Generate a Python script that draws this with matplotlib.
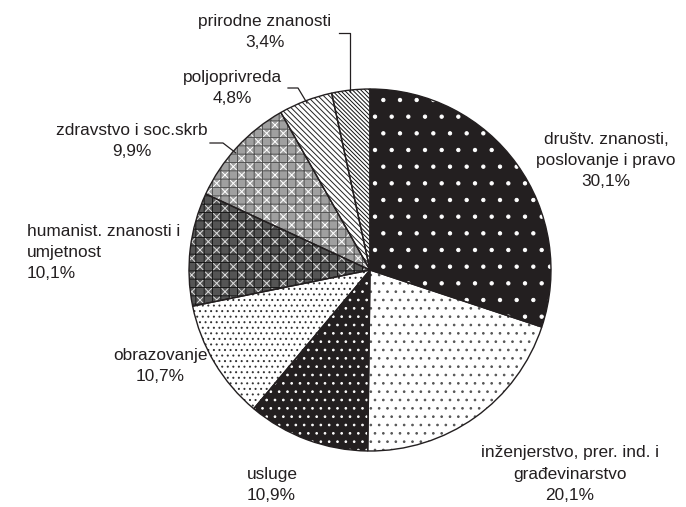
import matplotlib.pyplot as plt

plt.rcParams['font.family'] = ['Liberation Sans', 'DejaVu Sans']
plt.rcParams['hatch.linewidth'] = 0.7

# data
categories = ['društv. znanosti,\nposlovanje i pravo',
              'inženjerstvo, prer. ind. i\ngrađevinarstvo',
              'usluge',
              'obrazovanje',
              'humanist. znanosti i\numjetnost',
              'zdravstvo i soc.skrb',
              'poljoprivreda',
              'prirodne znanosti']
shares = [30.1, 20.1, 10.9, 10.7, 10.1, 9.9, 4.8, 3.4]

# styles per slice
faces = ['#231f20', 'white', '#231f20', 'white', '#555555', '#a0a0a0', 'white', 'white']
hatches = ['.', '..', '..', '...', 'xx', 'xx', '\\' * 6, '\\' * 8]
hatch_cols = ['white', '#555555', 'white', '#333333', '#dddddd', 'white', '#222222', '#111111']

# label positions in pixel coords (x, y from top) and alignment
label_pos = [(606, 161, 'center'), (570, 474, 'center'), (247, 485, 'left'),
             (160, 366, 'center'), (27, 253, 'left'), (132, 141, 'center'),
             (232, 88, 'center'), (265, 32, 'center')]

W, H = 686, 507
fig = plt.figure(figsize=(W / 100, H / 100), dpi=100)
ax = fig.add_axes([0, 0, 1, 1])

center = (370, H - 270)
radius = 181

wedges, _ = ax.pie(shares, startangle=90, counterclock=False, center=center,
                   radius=radius, colors=faces, wedgeprops=dict(linewidth=0))
for w, h, c in zip(wedges, hatches, hatch_cols):
    w.set_hatch(h)
    w.set_edgecolor(c)

# extra grid layer on the two cross-hatched slices
extra, _ = ax.pie(shares, startangle=90, counterclock=False, center=center,
                  radius=radius, colors=['none'] * len(shares),
                  wedgeprops=dict(linewidth=0))
for i, w in enumerate(extra):
    if i in (4, 5):
        w.set_hatch('++')
        w.set_edgecolor('#1a1a1a' if i == 4 else '#555555')
    else:
        w.set_visible(False)

# outlines
ax.pie(shares, startangle=90, counterclock=False, center=center,
       radius=radius, colors=['none'] * len(shares),
       wedgeprops=dict(linewidth=1.0, edgecolor='#231f20'))

for name, val, (x, y, ha) in zip(categories, shares, label_pos):
    txt = name + '\n' + f'{val:.1f}'.replace('.', ',') + '%'
    ax.text(x, H - y, txt, ha=ha, va='center', fontsize=12.4,
            color='#231f20', linespacing=1.5)

# leader lines
leaders = [[(210, 143), (223, 143), (236, 153)],
           [(288, 88), (298, 88), (307, 103)],
           [(339, 33), (350, 33), (350, 92)]]
for pts in leaders:
    ax.plot([p[0] for p in pts], [H - p[1] for p in pts], color='#231f20', lw=0.9)

ax.set_xlim(0, W)
ax.set_ylim(0, H)
ax.set_aspect('equal')
ax.axis('off')

plt.savefig('out.png', dpi=100)
